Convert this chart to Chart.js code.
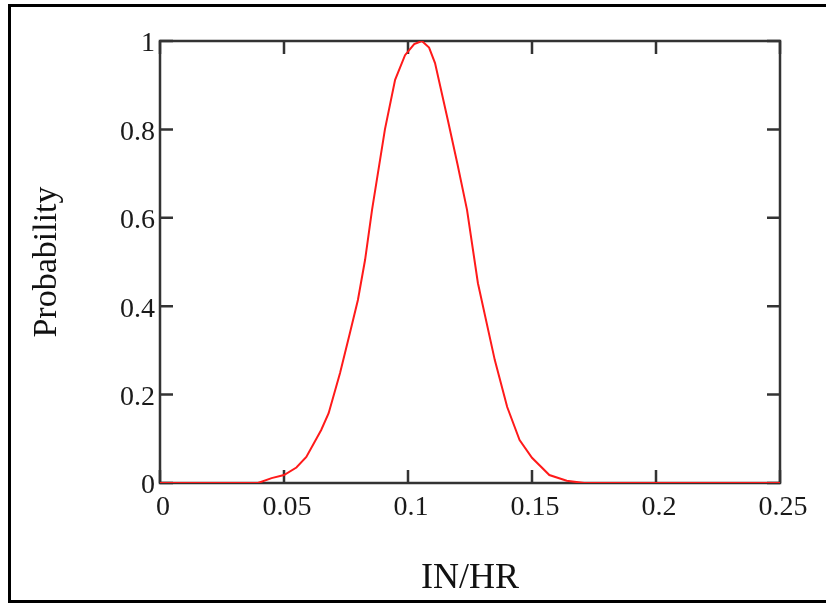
<!DOCTYPE html>
<html>
<head>
<meta charset="utf-8">
<script src="https://cdn.jsdelivr.net/npm/chart.js@4.4.1/dist/chart.umd.min.js"></script>
<style>
  html, body { margin: 0; padding: 0; background: #fff; }
  #wrap { position: relative; width: 826px; height: 607px; overflow: hidden; }
  #frame { position: absolute; left: 8px; top: 4px; width: 840px; height: 599px;
           border: 3px solid #000; box-sizing: border-box; pointer-events: none; }
  canvas { position: absolute; left: 0; top: 0; }
</style>
</head>
<body>
<div id="wrap">
  <canvas id="c" width="826" height="607"></canvas>
  <div id="frame"></div>
</div>
<script>
// ---- data ----
const intensity = [0, 0.0395, 0.045, 0.05, 0.055, 0.059, 0.065, 0.068, 0.0726, 0.0766,
  0.0798, 0.0827, 0.0855, 0.0907, 0.0948, 0.0988, 0.1025, 0.1056, 0.1085, 0.1109,
  0.1161, 0.1200, 0.1238, 0.1282, 0.135, 0.14, 0.145, 0.150, 0.157, 0.164, 0.171, 0.25];
const probability = [0, 0, 0.011, 0.018, 0.035, 0.059, 0.12, 0.158, 0.249, 0.34,
  0.414, 0.505, 0.618, 0.80, 0.912, 0.968, 0.993, 1.0, 0.985, 0.95,
  0.82, 0.72, 0.618, 0.452, 0.278, 0.172, 0.097, 0.057, 0.018, 0.005, 0, 0];

const xTickValues = [0, 0.05, 0.1, 0.15, 0.2, 0.25];
const xTickLabels = ["0", "0.05", "0.1", "0.15", "0.2", "0.25"];
const yTickValues = [0, 0.2, 0.4, 0.6, 0.8, 1];
const yTickLabels = ["0", "0.2", "0.4", "0.6", "0.8", "1"];

const xTitle = "IN/HR";
const yTitle = "Probability";

const points = intensity.map((x, i) => ({ x: x, y: probability[i] }));

// frame + inward tick marks, drawn through the library's scales
const framePlugin = {
  id: 'frameTicks',
  beforeDatasetsDraw(chart) {
    const ctx = chart.ctx;
    const a = chart.chartArea;
    const xs = chart.scales.x, ys = chart.scales.y;
    const len = 13;
    ctx.save();
    ctx.strokeStyle = '#333';
    ctx.lineWidth = 2.5;
    ctx.strokeRect(a.left, a.top, a.right - a.left, a.bottom - a.top);
    ctx.beginPath();
    xTickValues.forEach(v => {
      const px = xs.getPixelForValue(v);
      ctx.moveTo(px, a.bottom); ctx.lineTo(px, a.bottom - len);
      ctx.moveTo(px, a.top); ctx.lineTo(px, a.top + len);
    });
    yTickValues.forEach(v => {
      const py = ys.getPixelForValue(v);
      ctx.moveTo(a.left, py); ctx.lineTo(a.left + len, py);
      ctx.moveTo(a.right, py); ctx.lineTo(a.right - len, py);
    });
    ctx.stroke();
    ctx.restore();
  }
};

new Chart(document.getElementById('c'), {
  type: 'scatter',
  data: {
    datasets: [{
      data: points,
      showLine: true,
      borderColor: '#ff1a1a',
      borderWidth: 2,
      pointRadius: 0,
      tension: 0,
      fill: false
    }]
  },
  options: {
    responsive: false,
    animation: false,
    events: [],
    layout: { padding: { left: 0, top: 41, right: 46, bottom: 0 } },
    plugins: { legend: { display: false }, tooltip: { enabled: false } },
    scales: {
      x: {
        type: 'linear',
        min: 0, max: 0.25,
        afterBuildTicks: s => { s.ticks = xTickValues.map(v => ({ value: v })); },
        afterFit: s => { s.height = 124; },
        grid: { display: false, drawTicks: false },
        border: { display: false },
        ticks: {
          padding: 8,
          labelOffset: 3,
          maxRotation: 0,
          autoSkip: false,
          color: '#1a1a1a',
          font: { family: '"Liberation Serif", "Times New Roman", serif', size: 28 },
          callback: (v, i) => xTickLabels[i]
        },
        title: {
          display: true,
          text: xTitle,
          color: '#111',
          font: { family: '"Liberation Serif", "Times New Roman", serif', size: 36 },
          padding: { top: 0, bottom: 7 }
        }
      },
      y: {
        type: 'linear',
        min: 0, max: 1,
        afterBuildTicks: s => { s.ticks = yTickValues.map(v => ({ value: v })); },
        afterFit: s => { s.width = 160; },
        grid: { display: false, drawTicks: false },
        border: { display: false },
        ticks: {
          padding: 5,
          labelOffset: 3,
          autoSkip: false,
          color: '#1a1a1a',
          font: { family: '"Liberation Serif", "Times New Roman", serif', size: 28 },
          callback: (v, i) => yTickLabels[i]
        },
        title: {
          display: true,
          text: yTitle,
          color: '#111',
          font: { family: '"Liberation Serif", "Times New Roman", serif', size: 34 },
          padding: { top: 27, bottom: 0 }
        }
      }
    }
  },
  plugins: [framePlugin]
});
</script>
</body>
</html>
